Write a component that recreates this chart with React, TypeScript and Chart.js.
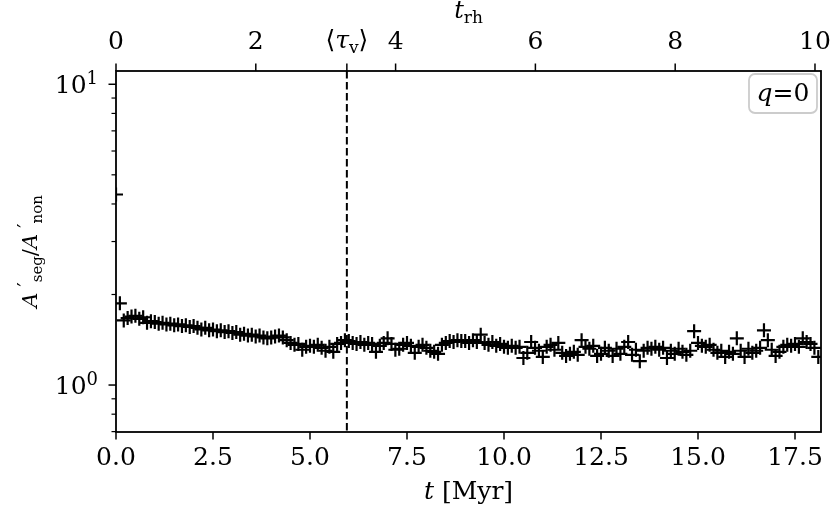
import { useEffect, useRef } from "react"
import { Chart, registerables } from "chart.js"

Chart.register(...registerables)

// time in Myr
const times = [
  0, 0.1, 0.2, 0.3, 0.4, 0.5, 0.6, 0.7, 0.8, 0.9,
  1, 1.1, 1.2, 1.3, 1.4, 1.5, 1.6, 1.7, 1.8, 1.9,
  2, 2.1, 2.2, 2.3, 2.4, 2.5, 2.6, 2.7, 2.8, 2.9,
  3, 3.1, 3.2, 3.3, 3.4, 3.5, 3.6, 3.7, 3.8, 3.9,
  4, 4.1, 4.2, 4.3, 4.4, 4.5, 4.6, 4.7, 4.8, 4.9,
  5, 5.1, 5.2, 5.3, 5.4, 5.5, 5.6, 5.7, 5.8, 5.9,
  6, 6.1, 6.2, 6.3, 6.4, 6.5, 6.6, 6.7, 6.8, 6.9,
  7, 7.1, 7.2, 7.3, 7.4, 7.5, 7.6, 7.7, 7.8, 7.9,
  8, 8.1, 8.2, 8.3, 8.4, 8.5, 8.6, 8.7, 8.8, 8.9,
  9, 9.1, 9.2, 9.3, 9.4, 9.5, 9.6, 9.7, 9.8, 9.9,
  10, 10.1, 10.2, 10.3, 10.4, 10.5, 10.6, 10.7, 10.8, 10.9,
  11, 11.1, 11.2, 11.3, 11.4, 11.5, 11.6, 11.7, 11.8, 11.9,
  12, 12.1, 12.2, 12.3, 12.4, 12.5, 12.6, 12.7, 12.8, 12.9,
  13, 13.1, 13.2, 13.3, 13.4, 13.5, 13.6, 13.7, 13.8, 13.9,
  14, 14.1, 14.2, 14.3, 14.4, 14.5, 14.6, 14.7, 14.8, 14.9,
  15, 15.1, 15.2, 15.3, 15.4, 15.5, 15.6, 15.7, 15.8, 15.9,
  16, 16.1, 16.2, 16.3, 16.4, 16.5, 16.6, 16.7, 16.8, 16.9,
  17, 17.1, 17.2, 17.3, 17.4, 17.5, 17.6, 17.7, 17.8, 17.9,
  18, 18.1,
]

// A'_seg / A'_non
const ratios = [
  4.30, 1.87, 1.64, 1.67, 1.69, 1.70, 1.66, 1.68, 1.61, 1.63,
  1.62, 1.60, 1.61, 1.59, 1.60, 1.58, 1.59, 1.57, 1.58, 1.56,
  1.57, 1.55, 1.53, 1.55, 1.52, 1.53, 1.51, 1.52, 1.50, 1.51,
  1.49, 1.50, 1.47, 1.48, 1.46, 1.47, 1.45, 1.46, 1.44, 1.43,
  1.44, 1.45, 1.46, 1.44, 1.41, 1.38, 1.36, 1.37, 1.31, 1.34,
  1.35, 1.34, 1.36, 1.33, 1.30, 1.34, 1.29, 1.37, 1.38, 1.41,
  1.40, 1.38, 1.37, 1.39, 1.36, 1.38, 1.37, 1.29, 1.35, 1.38,
  1.43, 1.37, 1.31, 1.32, 1.36, 1.38, 1.35, 1.28, 1.34, 1.36,
  1.33, 1.30, 1.29, 1.27, 1.36, 1.38, 1.40, 1.39, 1.41, 1.40,
  1.40, 1.38, 1.41, 1.39, 1.47, 1.38, 1.36, 1.39, 1.35, 1.37,
  1.34, 1.33, 1.35, 1.33, 1.34, 1.23, 1.28, 1.39, 1.33, 1.30,
  1.24, 1.34, 1.36, 1.31, 1.38, 1.28, 1.25, 1.27, 1.29, 1.26,
  1.41, 1.34, 1.32, 1.35, 1.25, 1.27, 1.33, 1.30, 1.25, 1.32,
  1.27, 1.34, 1.39, 1.26, 1.31, 1.20, 1.30, 1.33, 1.32, 1.34,
  1.31, 1.33, 1.23, 1.30, 1.27, 1.32, 1.29, 1.26, 1.30, 1.51,
  1.38, 1.35, 1.34, 1.36, 1.31, 1.28, 1.30, 1.24, 1.29, 1.27,
  1.43, 1.30, 1.24, 1.32, 1.28, 1.30, 1.33, 1.52, 1.41, 1.31,
  1.25, 1.29, 1.34, 1.36, 1.35, 1.37, 1.34, 1.43, 1.39, 1.37,
  1.33, 1.24,
]

const xTicks = [0, 2.5, 5, 7.5, 10, 12.5, 15, 17.5]
const trhTicks = [0, 2, 4, 6, 8, 10]
const yMajor = [1, 10]
const yMinor = [0.7, 0.8, 0.9, 2, 3, 4, 5, 6, 7, 8, 9]

const tauV = 5.95 // Myr
const myrPerTrh = 1.8015
const xMax = 18.17
const yMin = 0.698
const yMax = 11.07

const SERIF = '"DejaVu Serif", "DejaVu Sans", serif'
const font = (size: number, italic = false) => `${italic ? "italic " : ""}${size}px ${SERIF}`

type Seg = { t: string; f: string; dy?: number }

function richWidth(ctx: CanvasRenderingContext2D, segs: Seg[]) {
  let w = 0
  for (const s of segs) {
    ctx.font = s.f
    w += ctx.measureText(s.t).width
  }
  return w
}

function drawRich(ctx: CanvasRenderingContext2D, segs: Seg[], x: number, y: number) {
  let cx = x
  for (const s of segs) {
    ctx.font = s.f
    ctx.fillText(s.t, cx, y + (s.dy || 0))
    cx += ctx.measureText(s.t).width
  }
}

const overlayPlugin = {
  id: "overlay",
  afterDraw: (chart: any) => {
    const { ctx, chartArea: a } = chart
    const sx = chart.scales.x
    const st = chart.scales.x2
    const sy = chart.scales.y
    ctx.save()
    ctx.strokeStyle = "#000"
    ctx.fillStyle = "#000"

    // <tau_v> marker
    const tx = sx.getPixelForValue(tauV)
    ctx.lineWidth = 2
    ctx.setLineDash([7.5, 3.5])
    ctx.beginPath()
    ctx.moveTo(tx, a.top)
    ctx.lineTo(tx, a.bottom)
    ctx.stroke()
    ctx.setLineDash([])

    // frame
    ctx.lineWidth = 1.8
    ctx.strokeRect(a.left, a.top, a.right - a.left, a.bottom - a.top)

    // ticks
    const line = (x1: number, y1: number, x2: number, y2: number, w: number) => {
      ctx.lineWidth = w
      ctx.beginPath()
      ctx.moveTo(x1, y1)
      ctx.lineTo(x2, y2)
      ctx.stroke()
    }
    for (const v of xTicks) {
      const px = sx.getPixelForValue(v)
      line(px, a.bottom, px, a.bottom + 7.5, 1.5)
    }
    for (const v of [...trhTicks, tauV / myrPerTrh]) {
      const px = st.getPixelForValue(v)
      line(px, a.top, px, a.top - 7.5, 1.5)
    }
    for (const v of yMajor) {
      const py = sy.getPixelForValue(v)
      line(a.left - 7.5, py, a.left, py, 1.5)
    }
    for (const v of yMinor) {
      const py = sy.getPixelForValue(v)
      line(a.left - 4.5, py, a.left, py, 1.2)
    }

    ctx.textAlign = "left"
    ctx.textBaseline = "alphabetic"

    // y tick labels 10^n
    for (const v of yMajor) {
      const py = sy.getPixelForValue(v)
      const segs: Seg[] = [
        { t: "10", f: font(25) },
        { t: String(Math.round(Math.log10(v))), f: font(18), dy: -9 },
      ]
      const w = richWidth(ctx, segs)
      drawRich(ctx, segs, a.left - 18 - w, py + 9)
    }

    // <tau_v> label on the top axis
    const tauSegs: Seg[] = [
      { t: "⟨", f: font(25) },
      { t: "τ", f: font(25, true) },
      { t: "v", f: font(17), dy: 5 },
      { t: "⟩", f: font(25) },
    ]
    drawRich(ctx, tauSegs, tx - richWidth(ctx, tauSegs) / 2, a.top - 23)

    const cx = (a.left + a.right) / 2

    // bottom title
    const xt: Seg[] = [
      { t: "t", f: font(25, true) },
      { t: " [Myr]", f: font(25) },
    ]
    drawRich(ctx, xt, cx - richWidth(ctx, xt) / 2, 499)

    // top title
    const tt: Seg[] = [
      { t: "t", f: font(24, true) },
      { t: "rh", f: font(17), dy: 5 },
    ]
    drawRich(ctx, tt, cx - richWidth(ctx, tt) / 2, 18)

    // y title
    const yt: Seg[] = [
      { t: "A", f: font(21, true) },
      { t: " ′", f: font(19), dy: -6 },
      { t: "seg", f: font(15), dy: 5 },
      { t: "/", f: font(21) },
      { t: "A", f: font(21, true) },
      { t: " ′", f: font(19), dy: -6 },
      { t: "non", f: font(15), dy: 5 },
    ]
    ctx.save()
    ctx.translate(37, (a.top + a.bottom) / 2)
    ctx.rotate(-Math.PI / 2)
    drawRich(ctx, yt, -richWidth(ctx, yt) / 2, 0)
    ctx.restore()

    // legend box "q = 0"
    const bx = a.right - 72, by = a.top + 3, bw = 68, bh = 39
    ctx.beginPath()
    ctx.roundRect(bx, by, bw, bh, 6)
    ctx.fillStyle = "rgba(255,255,255,0.8)"
    ctx.fill()
    ctx.strokeStyle = "#cccccc"
    ctx.lineWidth = 1.8
    ctx.stroke()
    ctx.fillStyle = "#000"
    const lg: Seg[] = [
      { t: "q", f: font(25, true) },
      { t: "=", f: font(25) },
      { t: "0", f: font(25) },
    ]
    drawRich(ctx, lg, bx + bw / 2 - richWidth(ctx, lg) / 2, by + 27)

    ctx.restore()
  },
}

const zeroPadding = (s: any) => {
  s.paddingLeft = 0
  s.paddingRight = 0
  s.paddingTop = 0
  s.paddingBottom = 0
}

export default function App() {
  const canvasRef = useRef<HTMLCanvasElement>(null)
  const chartRef = useRef<Chart | null>(null)

  useEffect(() => {
    if (!canvasRef.current) return
    if (chartRef.current) chartRef.current.destroy()

    chartRef.current = new Chart(canvasRef.current, {
      type: "scatter",
      data: {
        datasets: [
          {
            data: times.map((t, i) => ({ x: t, y: ratios[i] })),
            pointStyle: "cross",
            pointRadius: 7,
            pointBorderWidth: 2.2,
            borderColor: "#000",
            backgroundColor: "#000",
          },
        ],
      },
      options: {
        animation: false,
        responsive: false,
        layout: { autoPadding: false, padding: { left: 0, right: 9, top: 0, bottom: 0 } },
        plugins: { legend: { display: false }, tooltip: { enabled: false } },
        scales: {
          x: {
            type: "linear",
            position: "bottom",
            min: 0,
            max: xMax,
            afterBuildTicks: (s: any) => {
              s.ticks = xTicks.map((value) => ({ value }))
            },
            afterFit: (s: any) => {
              s.height = 83
              zeroPadding(s)
            },
            grid: { display: false, drawTicks: false },
            border: { display: false },
            ticks: {
              autoSkip: false,
              maxRotation: 0,
              padding: 11,
              color: "#000",
              font: { family: SERIF, size: 25 },
              callback: (v: any) => Number(v).toFixed(1),
            },
          },
          x2: {
            type: "linear",
            position: "top",
            min: 0,
            max: xMax / myrPerTrh,
            afterBuildTicks: (s: any) => {
              s.ticks = [...trhTicks, tauV / myrPerTrh].map((value) => ({ value }))
            },
            afterFit: (s: any) => {
              s.height = 71
              zeroPadding(s)
            },
            grid: { display: false, drawTicks: false },
            border: { display: false },
            ticks: {
              autoSkip: false,
              maxRotation: 0,
              padding: 14,
              color: "#000",
              font: { family: SERIF, size: 25 },
              callback: (v: any) => (trhTicks.includes(Number(v)) ? String(v) : ""),
            },
          },
          y: {
            type: "logarithmic",
            position: "left",
            min: yMin,
            max: yMax,
            afterBuildTicks: (s: any) => {
              s.ticks = [...yMinor, ...yMajor].sort((p, q) => p - q).map((value) => ({ value }))
            },
            afterFit: (s: any) => {
              s.width = 116
              zeroPadding(s)
            },
            grid: { display: false, drawTicks: false },
            border: { display: false },
            ticks: { display: false },
          },
        },
      },
      plugins: [overlayPlugin],
    } as any)

    return () => {
      if (chartRef.current) {
        chartRef.current.destroy()
        chartRef.current = null
      }
    }
  }, [])

  return (
    <div style={{ position: "fixed", left: 0, top: 0, width: 830, height: 515, background: "#fff" }}>
      <canvas ref={canvasRef} width={830} height={515} style={{ display: "block" }} />
    </div>
  )
}
